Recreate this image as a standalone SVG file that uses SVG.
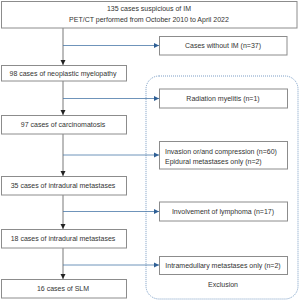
<svg xmlns="http://www.w3.org/2000/svg" width="300" height="301" viewBox="0 0 300 301">
<defs>
<style>
.box{fill:#fff;stroke:#8c8c8c;stroke-width:1}
.t{font-family:"Liberation Sans",Arial,sans-serif;font-size:7px;fill:#333;text-anchor:middle}
.tl{font-family:"Liberation Sans",Arial,sans-serif;font-size:7px;fill:#333;text-anchor:start}
.main{stroke:#555;stroke-width:0.8;fill:none}
.br{stroke:#4a78a8;stroke-width:0.8;fill:none}
</style>
<marker id="ab" markerWidth="6" markerHeight="6" refX="5" refY="3" orient="auto" markerUnits="userSpaceOnUse"><path d="M0,0.5 L5,3 L0,5.5 Z" fill="#222"/></marker>
<marker id="ag" markerWidth="6" markerHeight="6" refX="5" refY="3" orient="auto" markerUnits="userSpaceOnUse"><path d="M0,0.5 L5,3 L0,5.5 Z" fill="#2f5f95"/></marker>
</defs>
<rect width="300" height="301" fill="#fff"/>
<g id="exclusion">
<rect x="146" y="76" width="152" height="223" rx="13" ry="13" fill="none" stroke="#5a86b8" stroke-width="0.8" stroke-dasharray="1,1"/>
<text class="t" x="223" y="287">Exclusion</text>
</g>
<g id="connectors">
<line class="main" x1="63" y1="28" x2="63" y2="65" marker-end="url(#ab)"/>
<line class="main" x1="63" y1="81" x2="63" y2="115" marker-end="url(#ab)"/>
<line class="main" x1="63" y1="134" x2="63" y2="176" marker-end="url(#ab)"/>
<line class="main" x1="63" y1="195" x2="63" y2="229" marker-end="url(#ab)"/>
<line class="main" x1="63" y1="248" x2="63" y2="279" marker-end="url(#ab)"/>
<line class="br" x1="63" y1="45.5" x2="159" y2="45.5" marker-end="url(#ag)"/>
<line class="br" x1="63" y1="98.5" x2="159" y2="98.5" marker-end="url(#ag)"/>
<line class="br" x1="63" y1="155" x2="159" y2="155" marker-end="url(#ag)"/>
<line class="br" x1="63" y1="211.5" x2="159" y2="211.5" marker-end="url(#ag)"/>
<line class="br" x1="63" y1="265" x2="159" y2="265" marker-end="url(#ag)"/>
</g>
<g id="n1"><rect class="box" x="1.5" y="1.5" width="295.5" height="26.5"/>
<text class="t" x="149" y="11">135 cases suspicious of IM</text>
<text class="t" x="149" y="21.5">PET/CT performed from October 2010 to April 2022</text></g>
<g id="n2"><rect class="box" x="159.5" y="36.5" width="127.5" height="18.5"/>
<text class="t" x="223" y="48.3">Cases without IM (n=37)</text></g>
<g id="n3"><rect class="box" x="1.5" y="65.5" width="125" height="15.5"/>
<text class="t" x="63" y="75.5">98 cases of neoplastic myelopathy</text></g>
<g id="n4"><rect class="box" x="159.5" y="89" width="128" height="19"/>
<text class="t" x="223" y="101">Radiation myelitis (n=1)</text></g>
<g id="n5"><rect class="box" x="1.5" y="115.5" width="125" height="18.5"/>
<text class="t" x="63" y="127">97 cases of carcinomatosis</text></g>
<g id="n6"><rect class="box" x="159.5" y="141.5" width="128" height="27.5"/>
<text class="tl" x="165" y="153.5">Invasion or/and compression (n=60)</text>
<text class="tl" x="165" y="163.5">Epidural metastases only (n=2)</text></g>
<g id="n7"><rect class="box" x="1.5" y="176.5" width="125" height="18.5"/>
<text class="t" x="63" y="188.3">35 cases of intradural metastases</text></g>
<g id="n8"><rect class="box" x="159.5" y="202" width="128" height="19"/>
<text class="t" x="223" y="214.3">Involvement of lymphoma (n=17)</text></g>
<g id="n9"><rect class="box" x="1.5" y="229.5" width="125" height="18.5"/>
<text class="t" x="63" y="241.3">18 cases of intradural metastases</text></g>
<g id="n10"><rect class="box" x="159.5" y="256.5" width="128" height="18"/>
<text class="t" x="223" y="267.8">Intramedullary metastases only (n=2)</text></g>
<g id="n11"><rect class="box" x="1.5" y="279.5" width="125" height="18.5"/>
<text class="t" x="63" y="291.3">16 cases of SLM</text></g>
</svg>
